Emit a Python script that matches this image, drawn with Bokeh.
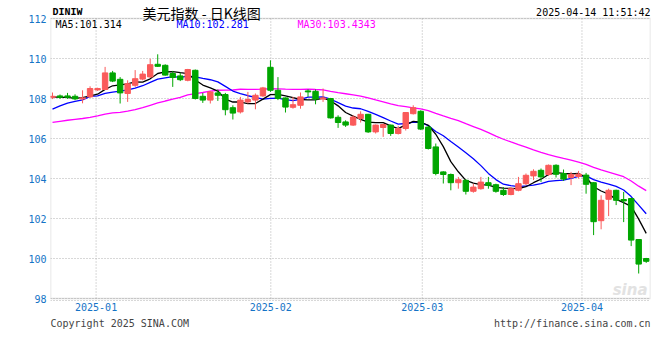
import numpy as np
from bokeh.plotting import figure
from bokeh.layouts import column
from bokeh.models import Range1d, FixedTicker, Label, ColumnDataSource, BoxAnnotation, Span
from bokeh.embed import file_html
from bokeh.resources import INLINE

# ---- data (DINIW daily candles, 2024-12-23 .. 2025-04-14) ----
opens = [108.06, 108.13, 108.13, 108.11, 107.98, 108.08, 108.43, 108.45, 109.28, 108.96,
         108.25, 108.66, 108.97, 109.08, 109.71, 109.66, 109.25, 109.13, 108.91, 109.41,
         108.11, 107.92, 108.28, 108.20, 107.54, 107.33, 107.83, 107.92, 108.13, 109.56,
         108.41, 108.03, 107.56, 107.66, 108.38, 108.36, 107.97, 108.00, 107.06, 106.83,
         106.67, 107.00, 107.21, 106.33, 106.55, 106.67, 106.25, 106.50, 107.24, 107.36,
         106.57, 105.58, 104.33, 104.20, 103.79, 103.91, 103.36, 103.49, 103.79, 103.69,
         103.41, 103.20, 103.41, 103.74, 104.13, 104.41, 104.20, 104.66, 104.25, 104.05,
         104.10, 104.17, 103.79, 101.89, 102.96, 103.41, 102.95, 103.00, 100.95, 100.00]
highs = [108.30, 108.20, 108.28, 108.21, 108.41, 108.61, 108.54, 109.58, 109.38, 109.07,
         108.91, 109.42, 109.38, 109.99, 110.21, 109.71, 109.38, 109.28, 109.48, 109.45,
         108.28, 108.38, 108.45, 108.28, 107.66, 108.08, 108.33, 108.25, 108.58, 109.91,
         109.07, 108.05, 108.08, 108.30, 108.46, 108.45, 108.50, 108.03, 107.16, 106.91,
         107.16, 107.36, 107.23, 106.70, 106.75, 106.70, 106.63, 107.32, 107.66, 107.41,
         106.62, 105.75, 104.36, 104.25, 104.08, 103.96, 103.74, 104.08, 104.08, 103.74,
         103.57, 103.57, 104.08, 104.25, 104.46, 104.50, 104.70, 104.71, 104.45, 104.33,
         104.38, 104.28, 103.82, 103.16, 103.49, 103.44, 103.33, 103.04, 100.96, 100.03]
lows = [107.97, 107.98, 107.98, 107.92, 107.76, 108.03, 108.38, 108.43, 108.82, 107.75,
        107.83, 108.58, 108.91, 109.03, 109.58, 109.14, 108.58, 108.87, 108.86, 107.95,
        107.78, 107.75, 107.88, 107.16, 106.95, 107.25, 107.75, 107.46, 108.08, 108.33,
        107.92, 107.30, 107.49, 107.49, 108.08, 107.71, 107.83, 107.00, 106.53, 106.58,
        106.63, 106.80, 106.28, 106.25, 106.08, 106.13, 106.20, 106.40, 107.20, 106.42,
        105.45, 104.16, 103.75, 103.41, 103.49, 103.20, 103.29, 103.44, 103.49, 103.29,
        103.13, 103.16, 103.36, 103.66, 103.92, 103.83, 104.13, 104.05, 103.88, 103.67,
        104.00, 103.24, 101.17, 101.46, 102.12, 102.67, 101.82, 100.62, 99.25, 99.78]
closes = [108.11, 108.06, 108.06, 107.98, 108.03, 108.50, 108.50, 109.28, 108.87, 108.28,
          108.74, 108.99, 109.22, 109.69, 109.61, 109.17, 109.05, 108.94, 109.45, 108.00,
          107.92, 108.33, 108.16, 107.44, 107.27, 107.92, 107.95, 108.16, 108.53, 108.41,
          108.00, 107.57, 107.69, 108.08, 108.33, 107.97, 108.03, 107.03, 106.80, 106.67,
          107.07, 107.21, 106.33, 106.67, 106.70, 106.25, 106.50, 107.30, 107.54, 106.47,
          105.50, 104.25, 104.20, 103.79, 103.94, 103.36, 103.57, 103.82, 103.66, 103.36,
          103.20, 103.49, 103.74, 104.16, 104.36, 104.08, 104.66, 104.21, 103.97, 104.20,
          104.22, 103.71, 101.84, 102.91, 103.41, 102.91, 102.88, 100.92, 99.72, 99.86]
# closes before the visible window (only feed the moving averages)
prior_closes = [106.3, 106.5, 106.7, 106.7, 106.8, 106.2, 106.6, 107.0, 107.5, 106.9,
                107.0, 106.1, 106.1, 106.0, 106.4, 106.4, 106.3, 105.7, 106.0, 106.2,
                106.4, 106.7, 107.15, 107.2, 106.8, 108.2, 108.05, 108.25, 107.8]

y_ticks = [98, 100, 102, 104, 106, 108, 110, 112]
month_ticks = [5.8, 29.05, 49.2, 70.45]
month_labels = ["2025-01", "2025-02", "2025-03", "2025-04"]

symbol = "DINIW"
title = "美元指数 - 日K线图"
stamp = "2025-04-14 11:51:42"
ma_texts = ["MA5:101.314", "MA10:102.281", "MA30:103.4343"]
copyright_text = "Copyright 2025 SINA.COM"
site_text = "http://finance.sina.com.cn"

# ---- derived ----
n = len(closes)
idx = np.arange(n)
allc = np.array(prior_closes + closes)
off = len(prior_closes)

def ma(k):
    return [float(np.mean(allc[off + i - k + 1: off + i + 1])) for i in range(n)]

UP = "#fa5a5a"
DOWN = "#00a600"
colors = [UP if c >= o else DOWN for o, c in zip(opens, closes)]
src = ColumnDataSource(dict(
    x=idx, o=opens, h=highs, l=lows, c=closes,
    top=[max(a, b) for a, b in zip(opens, closes)],
    bot=[min(a, b) for a, b in zip(opens, closes)],
    col=colors))

PX_PER_UNIT = 20.0
BELOW_PX = 3           # small strip under the 98 line (dotted rule)
FRAME_H = 298 + BELOW_PX
BOTTOM_PANEL = 14
y_bot = y_ticks[0] - BELOW_PX / PX_PER_UNIT
y_top = y_bot + FRAME_H / PX_PER_UNIT

p = figure(frame_width=600, frame_height=FRAME_H, output_backend="svg", toolbar_location=None,
           x_range=Range1d(-0.266, 79.57), y_range=Range1d(y_bot, y_top),
           min_border_left=50, min_border_right=10, min_border_top=0,
           min_border_bottom=BOTTOM_PANEL)
p.background_fill_color = "white"
p.border_fill_color = "white"
p.outline_line_color = None

BLUE = "#1473c6"
GRID = "#b0b0b0"
for ax in (p.xaxis, p.yaxis):
    ax.axis_line_color = None
    ax.major_tick_line_color = None
    ax.minor_tick_line_color = None
    ax.major_tick_out = 0
    ax.major_label_text_color = BLUE
    ax.major_label_text_font = "DejaVu Sans Mono"
    ax.major_label_text_font_size = "10px"
p.yaxis.major_label_standoff = 4
p.xaxis.major_label_standoff = 1
p.yaxis.ticker = FixedTicker(ticks=y_ticks)
p.xaxis.ticker = FixedTicker(ticks=month_ticks)
p.xaxis.major_label_overrides = {t: s for t, s in zip(month_ticks, month_labels)}

p.ygrid.ticker = FixedTicker(ticks=y_ticks)
p.ygrid.grid_line_color = GRID
p.ygrid.grid_line_dash = "1 2"
p.xgrid.visible = False
# month separators only inside the price box
p.segment(x0=month_ticks, y0=[y_ticks[0]] * 4, x1=month_ticks, y1=[y_ticks[-1]] * 4,
          line_color=GRID, line_dash="1 2", line_width=1)
# dotted rule just under the box
p.add_layout(Span(location=y_bot + 1 / PX_PER_UNIT, dimension="width",
                  line_color=GRID, line_dash="1 2", line_width=1))

# price box border
p.add_layout(BoxAnnotation(bottom=y_ticks[0], top=y_ticks[-1], fill_alpha=0,
                           line_color="#9a9a9a", line_width=1.5))

# MA lines
p.line(idx, ma(30), line_color="#ff00ff", line_width=1.3)
p.line(idx, ma(10), line_color="#0000ff", line_width=1.3)
p.line(idx, ma(5), line_color="#000000", line_width=1.3)

# candles
p.segment(x0="x", y0="l", x1="x", y1="h", line_color="col", line_width=1, source=src)
p.vbar(x="x", width=0.72, top="top", bottom="bot", fill_color="col",
       line_color="col", line_width=1, source=src)

FRAME_L, FRAME_B = 50, FRAME_H

def txt(fig, s, px, py, color="#000000", size="10px", align="left",
        font="DejaVu Sans Mono", style="normal", fl=FRAME_L, fb=FRAME_B):
    fig.add_layout(Label(x=px - fl, y=fb - py, x_units="screen", y_units="screen",
                         text=s, text_color=color, text_font_size=size, text_align=align,
                         text_baseline="middle", text_font=font, text_font_style=style))

txt(p, symbol, 52, 12, size="10px", font="Liberation Mono", style="bold")
txt(p, title, 142, 12, size="14px", font="Noto Sans CJK SC")
txt(p, stamp, 650, 12, size="10px", align="right")
for s, x0, col in zip(ma_texts, [55, 176, 297], ["#000000", "#0000ff", "#ff00ff"]):
    txt(p, s, x0, 24, color=col)
txt(p, "sina", 647, 289, color="#e2e2e2", size="15px", align="right",
    font="DejaVu Sans", style="bold italic")

# footer strip (its frame is aligned with the main frame: x 50..650)
MAIN_H = FRAME_H + BOTTOM_PANEL
FOOT_H = 360 - MAIN_H
f = figure(width=660, height=FOOT_H, output_backend="svg", toolbar_location=None,
           x_range=Range1d(0, 600), y_range=Range1d(0, FOOT_H),
           x_axis_location=None, y_axis_location=None, min_border=0)
f.outline_line_color = None
f.grid.visible = False
txt(f, copyright_text, 50, 323 - MAIN_H, color="#444444", fl=50, fb=FOOT_H)
txt(f, site_text, 650, 323 - MAIN_H, color="#444444", align="right", fl=50, fb=FOOT_H)

layout = column(p, f, spacing=0)
open("out.html", "w").write(file_html(layout, INLINE))
